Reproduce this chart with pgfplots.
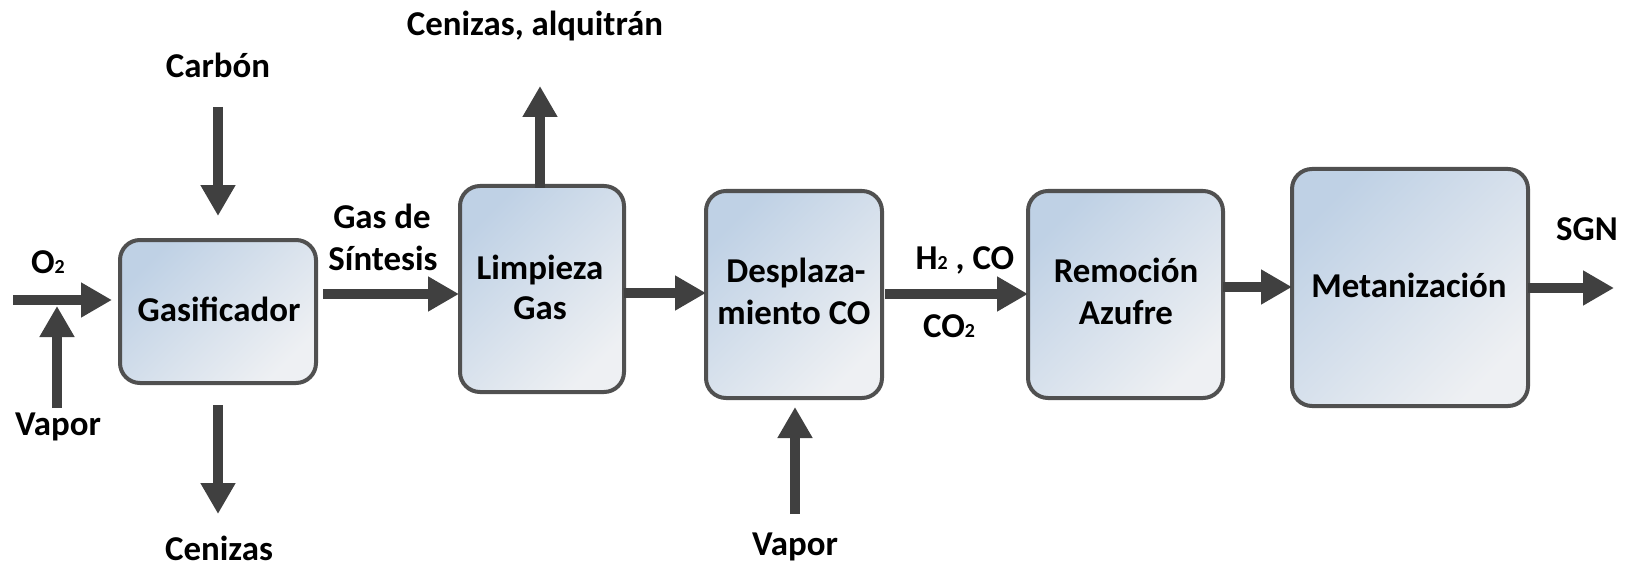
\documentclass[border=0pt]{standalone}
\usepackage{pgfplots}
\pgfplotsset{compat=1.18}
\usepackage{fontspec}
\setmainfont{Carlito}
\usetikzlibrary{arrows.meta}
\definecolor{arr}{HTML}{404040}
\definecolor{bord}{HTML}{505050}
\definecolor{bA}{HTML}{BFD1E5}
\definecolor{bB}{HTML}{EEF0F3}
\newcommand\sub[1]{{\fontsize{20}{20}\selectfont #1}}
\tikzset{
  flow/.style={arr, line width=10bp, -{Triangle[width=33bp,length=31bp]}},
  lab/.style={font=\bfseries\fontsize{35}{41}\selectfont, anchor=base, inner sep=0pt, text=black}}
\newcommand\procbox[4]{%
  \fill[black, opacity=0.10, rounded corners=20bp] (axis cs:#1,#2) ++(4bp,-6bp) rectangle (axis cs:#3,#4);
  \shade[rounded corners=20bp, top color=bA, bottom color=bB, shading angle=45, draw=bord, line width=4bp] (axis cs:#1,#2) rectangle (axis cs:#3,#4);
}
\begin{document}
\begin{tikzpicture}
\begin{axis}[scale only axis, width=1637bp, height=568bp,
  xmin=0, xmax=1637, ymin=0, ymax=568, y dir=reverse,
  hide axis, clip=false]
\path (axis cs:0,0) rectangle (axis cs:1637,568);
% boxes
\procbox{120}{240}{316}{383}
\procbox{460}{186}{624}{392}
\procbox{706}{191}{882}{398}
\procbox{1028}{191}{1223}{398}
\procbox{1292}{169}{1528}{406}
% arrows
\addplot[flow, no markers, forget plot] coordinates {(13,300) (112,300)};
\addplot[flow, no markers, forget plot] coordinates {(57,408) (57,306)};
\addplot[flow, no markers, forget plot] coordinates {(218,107) (218,216)};
\addplot[flow, no markers, forget plot] coordinates {(218,405) (218,514)};
\addplot[flow, no markers, forget plot] coordinates {(323,294) (459,294)};
\addplot[flow, no markers, forget plot] coordinates {(540,188) (540,86)};
\addplot[flow, no markers, forget plot] coordinates {(624,293) (706,293)};
\addplot[flow, no markers, forget plot] coordinates {(885,294) (1028,294)};
\addplot[flow, no markers, forget plot] coordinates {(795,514) (795,407)};
\addplot[flow, no markers, forget plot] coordinates {(1223,287) (1292,287)};
\addplot[flow, no markers, forget plot] coordinates {(1528,288) (1614,288)};
% labels
\node[lab] at (axis cs:218,78) {Carbón};
\node[lab] at (axis cs:535,36) {Cenizas, alquitrán};
\node[lab] at (axis cs:382,228) {Gas de};
\node[lab] at (axis cs:383,270) {Síntesis};
\node[lab] at (axis cs:48,273) {O\sub{2}};
\node[lab] at (axis cs:58,435) {Vapor};
\node[lab] at (axis cs:219,560) {Cenizas};
\node[lab] at (axis cs:219,321) {Gasificador};
\node[lab] at (axis cs:540,279) {Limpieza};
\node[lab] at (axis cs:540,319) {Gas};
\node[lab] at (axis cs:796,282) {Desplaza-};
\node[lab] at (axis cs:794,324) {miento CO};
\node[lab] at (axis cs:965,269) {H\sub{2} , CO};
\node[lab] at (axis cs:949,337) {CO\sub{2}};
\node[lab] at (axis cs:1126,282) {Remoción};
\node[lab] at (axis cs:1126,324) {Azufre};
\node[lab] at (axis cs:1409,297) {Metanización};
\node[lab] at (axis cs:1587,240) {SGN};
\node[lab] at (axis cs:795,555) {Vapor};
\end{axis}
\end{tikzpicture}
\end{document}
